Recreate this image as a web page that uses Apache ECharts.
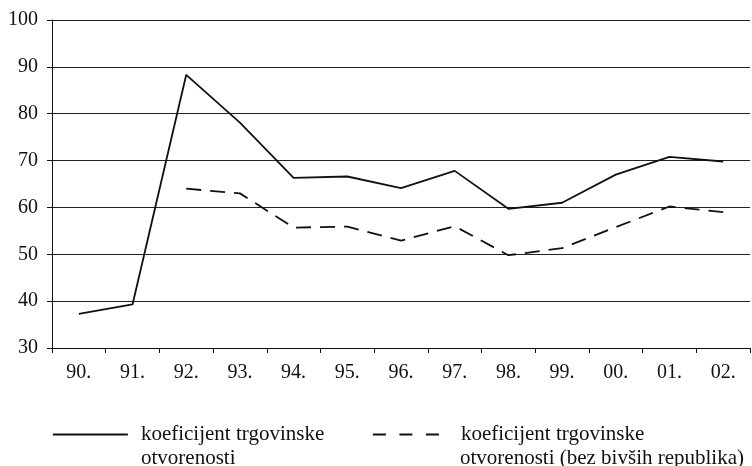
<!DOCTYPE html>
<html>
<head>
<meta charset="utf-8">
<script src="https://cdn.jsdelivr.net/npm/echarts@6/dist/echarts.min.js"></script>
<style>
  html, body { margin: 0; padding: 0; background: #fff; }
  #chart { width: 752px; height: 466px; }
</style>
</head>
<body>
<div id="chart"></div>
<script>
// godine
var years = ['90.', '91.', '92.', '93.', '94.', '95.', '96.', '97.', '98.', '99.', '00.', '01.', '02.'];
// koeficijent trgovinske otvorenosti
var openness = [37.3, 39.3, 88.3, 78.1, 66.3, 66.6, 64.1, 67.8, 59.7, 61.0, 67.0, 70.8, 69.8];
// bez bivsih republika
var opennessExYu = [null, null, 64.0, 63.0, 55.7, 55.9, 52.9, 56.0, 49.8, 51.3, 55.8, 60.2, 59.0];

var nameA = 'koeficijent trgovinske\notvorenosti';
var nameB = 'koeficijent trgovinske\notvorenosti (bez bivših republika)';

var font = 'Liberation Serif';
var chart = echarts.init(document.getElementById('chart'));

// legenda: prvi red ide u legend, drugi red kao graphic tekst
function firstLine(name) { return name.split('\n')[0]; }
function secondLine(name) { return name.split('\n')[1]; }

var legendText = { fontFamily: font, fontSize: 21, color: '#111', padding: [0, 0, 0, 8] };

var option = {
  animation: false,
  grid: { left: 52, right: 2, top: 20, bottom: 118 },
  legend: [{
    data: [nameA],
    formatter: firstLine,
    left: 52,
    top: 424,
    padding: 0,
    itemWidth: 75,
    itemHeight: 18,
    itemStyle: { color: 'transparent', borderWidth: 0 },
    lineStyle: { width: 1.8 },
    textStyle: legendText
  }, {
    data: [nameB],
    formatter: firstLine,
    left: 372,
    top: 424,
    padding: 0,
    itemWidth: 66,
    itemHeight: 18,
    itemStyle: { color: 'transparent', borderWidth: 0 },
    lineStyle: { width: 1.8, type: [13, 13.5] },
    textStyle: Object.assign({}, legendText, { padding: [0, 0, 0, 17] })
  }],
  graphic: [{
    type: 'text', left: 141, top: 448,
    style: { text: secondLine(nameA), font: '21px "Liberation Serif"', fill: '#111' }
  }, {
    type: 'text', left: 460, top: 448,
    style: { text: secondLine(nameB), font: '21px "Liberation Serif"', fill: '#111' }
  }],
  xAxis: {
    type: 'category',
    data: years,
    boundaryGap: true,
    axisLine: { lineStyle: { color: '#111', width: 1 } },
    axisTick: { show: true, interval: 0, length: 5, lineStyle: { color: '#111' } },
    axisLabel: { fontFamily: font, fontSize: 20, color: '#111', margin: 15 }
  },
  yAxis: {
    type: 'value',
    min: 30,
    max: 100,
    interval: 10,
    axisLine: { show: true, lineStyle: { color: '#111', width: 1 } },
    axisTick: { show: true, length: 5, lineStyle: { color: '#111' } },
    axisLabel: { fontFamily: font, fontSize: 20, color: '#111', margin: 14 },
    splitLine: { show: true, lineStyle: { color: '#222', width: 1 } }
  },
  series: [{
    name: nameA,
    type: 'line',
    data: openness,
    symbol: 'none',
    color: '#111',
    lineStyle: { color: '#111', width: 1.8 }
  }, {
    name: nameB,
    type: 'line',
    data: opennessExYu,
    symbol: 'none',
    color: '#111',
    lineStyle: { color: '#111', width: 1.8, type: [15, 9] }
  }]
};

chart.setOption(option);
</script>
</body>
</html>
